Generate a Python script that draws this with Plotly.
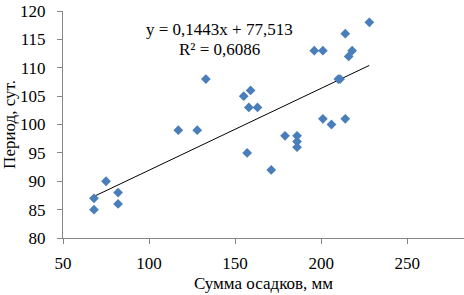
import plotly.graph_objects as go
import numpy as np

# Data
precip_mm = [68, 68, 75, 82, 82, 117, 128, 133, 155, 159, 158, 163, 157, 171,
             179, 186, 186, 186, 196, 201, 201, 206, 210, 211, 214, 214, 218, 216, 228]
period_days = [87, 85, 90, 88, 86, 99, 99, 108, 105, 106, 103, 103, 95, 92,
               98, 98, 97, 96, 113, 113, 101, 100, 108, 108, 116, 101, 113, 112, 118]

slope = 0.1443
intercept = 77.513
eq_text = "y = 0,1443x + 77,513"
r2_text = "R² = 0,6086"

x_ticks = [50, 100, 150, 200, 250]
y_ticks = [80, 85, 90, 95, 100, 105, 110, 115, 120]

font_family = "Liberation Serif, Times New Roman, serif"
fsize = 17

fig = go.Figure()

xl = np.array([min(precip_mm), max(precip_mm)])
fig.add_trace(go.Scatter(
    x=xl, y=slope * xl + intercept, mode="lines",
    line=dict(color="black", width=1), hoverinfo="skip", showlegend=False))

fig.add_trace(go.Scatter(
    x=precip_mm, y=period_days, mode="markers",
    marker=dict(symbol="diamond", size=7.5, color="#4a7ebb",
                line=dict(width=0)),
    showlegend=False))

axis_common = dict(showgrid=False, zeroline=False, showline=True,
                   linecolor="#868686", linewidth=1, ticks="outside",
                   tickcolor="#868686", ticklen=5, tickwidth=1,
                   automargin=False,
                   tickfont=dict(family=font_family, size=fsize, color="black"))

fig.update_layout(
    width=464, height=295,
    margin=dict(l=63, r=0, t=11, b=57),
    plot_bgcolor="white", paper_bgcolor="white",
    font=dict(family=font_family, size=fsize, color="black"),
    xaxis=dict(range=[50, 283], tickvals=x_ticks, ticklabelstandoff=5,
               title=dict(text="Сумма осадков, мм", standoff=4,
                          font=dict(family=font_family, size=fsize)),
               **axis_common),
    yaxis=dict(range=[80, 120], tickvals=y_ticks, ticklabelstandoff=8,
               title=dict(text="Период, сут.", standoff=4,
                          font=dict(family=font_family, size=fsize)),
               **axis_common),
    annotations=[
        dict(x=0.39, y=0.92, xref="paper", yref="paper", text=eq_text,
             showarrow=False, xanchor="center", yanchor="middle",
             font=dict(family=font_family, size=fsize, color="black")),
        dict(x=0.39, y=0.83, xref="paper", yref="paper", text=r2_text,
             showarrow=False, xanchor="center", yanchor="middle",
             font=dict(family=font_family, size=fsize, color="black")),
    ],
)

fig.write_html("out.html",
               config={"displayModeBar": False},
               post_script="document.body.style.margin='0';document.body.style.overflow='hidden';")
